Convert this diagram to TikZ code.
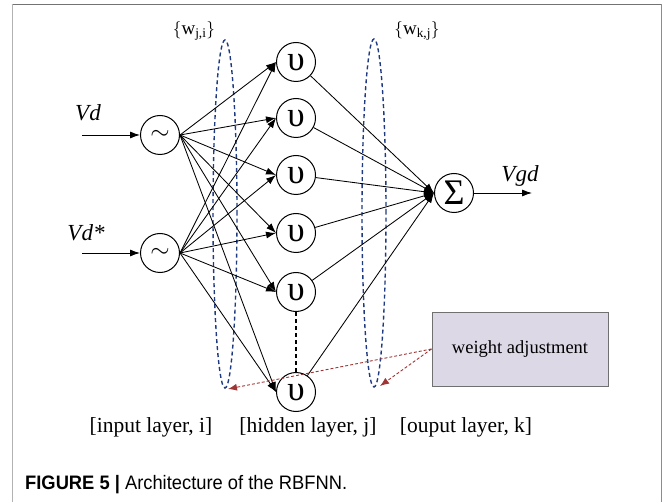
\documentclass[tikz,border=0pt]{standalone}
\usepackage{fontspec}
\setmainfont{Liberation Serif}
\newfontfamily\capfont{Liberation Sans}
\usetikzlibrary{arrows.meta,shapes.geometric}
\definecolor{navyd}{HTML}{1F3A80}
\definecolor{redd}{HTML}{A03535}
\definecolor{lav}{HTML}{DDD8E6}
\definecolor{boxedge}{HTML}{707070}
\begin{document}
\begin{tikzpicture}[x=1pt,y=-1pt,
  neuron/.style={circle,draw,line width=1pt,minimum size=39pt,inner sep=0pt},
  conn/.style={line width=0.85pt,-{Latex[length=10pt,width=7pt]}},
  wloop/.style={ellipse,draw=navyd,line width=1.4pt,dash pattern=on 4pt off 3pt,minimum width=24pt,minimum height=348pt,inner sep=0pt},
  redarr/.style={draw=redd,line width=0.9pt,dash pattern=on 3pt off 2pt,-{Latex[length=9pt,width=7pt]}},
  lbl/.style={font=\fontsize{21.5}{21.5}\selectfont},
  wlbl/.style={font=\fontsize{19}{19}\selectfont},
  vlbl/.style={font=\fontsize{23}{23}\selectfont\itshape}]
\useasboundingbox (0,0) rectangle (663,502);
% frame
\draw[color=black!55,line width=1.5pt] (11.5,4.5) -- (662,4.5);
\draw[color=black!30,line width=1.5pt] (12.5,4.5) -- (12.5,502);
\draw[color=black!45,line width=1.2pt] (661.5,4.5) -- (661.5,502);
% loops
\node[wloop] (e1) at (225,214) {};
\node[wloop] (e2) at (374,213) {};
% input nodes
\node[neuron] (i1) at (160,135) {\fontsize{29}{29}\selectfont$\sim$};
\node[neuron] (i2) at (160,253) {\fontsize{29}{29}\selectfont$\sim$};
% hidden nodes
\foreach \n/\y in {1/62,2/118,3/175,4/233,5/292,6/392}
  \node[neuron] (h\n) at (296,\y) {\fontsize{35}{35}\selectfont υ};
% sum node
\node[neuron] (s) at (454,193) {\fontsize{36}{36}\selectfont Σ};
% inputs / output
\coordinate (a1) at (82,135);
\coordinate (a2) at (82,253);
\coordinate (o) at (532,193);
\draw[conn] (a1) -- (i1);
\draw[conn] (a2) -- (i2);
\draw[conn] (s) -- (o);
\node[vlbl] (vd) at (88,113) {Vd};
\node[vlbl] (vds) at (86,233) {Vd*};
\node[vlbl] (vgd) at (520,176) {Vgd};
% connections
\foreach \i in {1,2}
  \foreach \h in {1,...,6}
    \draw[conn] (i\i.east) -- (h\h.west);
\foreach \h in {1,...,6}
  \draw[conn] (h\h) -- (s.west);
\draw[line width=1.2pt,dash pattern=on 4pt off 3pt] (h5) -- (h6);
% weight labels
\node[wlbl] (wji) at (194,31) {$\{$w\textsubscript{j,i}$\}$};
\node[wlbl] (wkj) at (417,31) {$\{$w\textsubscript{k,j}$\}$};
% weight adjustment box
\node[draw=boxedge,fill=lav,line width=1pt,minimum width=176pt,minimum height=74pt,inner sep=0pt,font=\fontsize{18.5}{18.5}\selectfont] (wa) at (520,349) {weight adjustment};
\coordinate (t1) at (228,389);
\coordinate (t2) at (380,386);
\draw[redarr] (wa.west) -- (t1);
\draw[redarr] (wa.west) -- (t2);
% layer labels
\node[lbl] (li) at (151,427) {[input layer, i]};
\node[lbl] (lh) at (308,427) {[hidden layer, j]};
\node[lbl] (lo) at (466,427) {[ouput layer, k]};
% caption
\node[anchor=base west,inner sep=0pt,font=\capfont\fontsize{19.5}{19.5}\selectfont] (cap) at (25,489) {\scalebox{0.94}[1]{\textbf{FIGURE 5 |} Architecture of the RBFNN.}};
\end{tikzpicture}
\end{document}
